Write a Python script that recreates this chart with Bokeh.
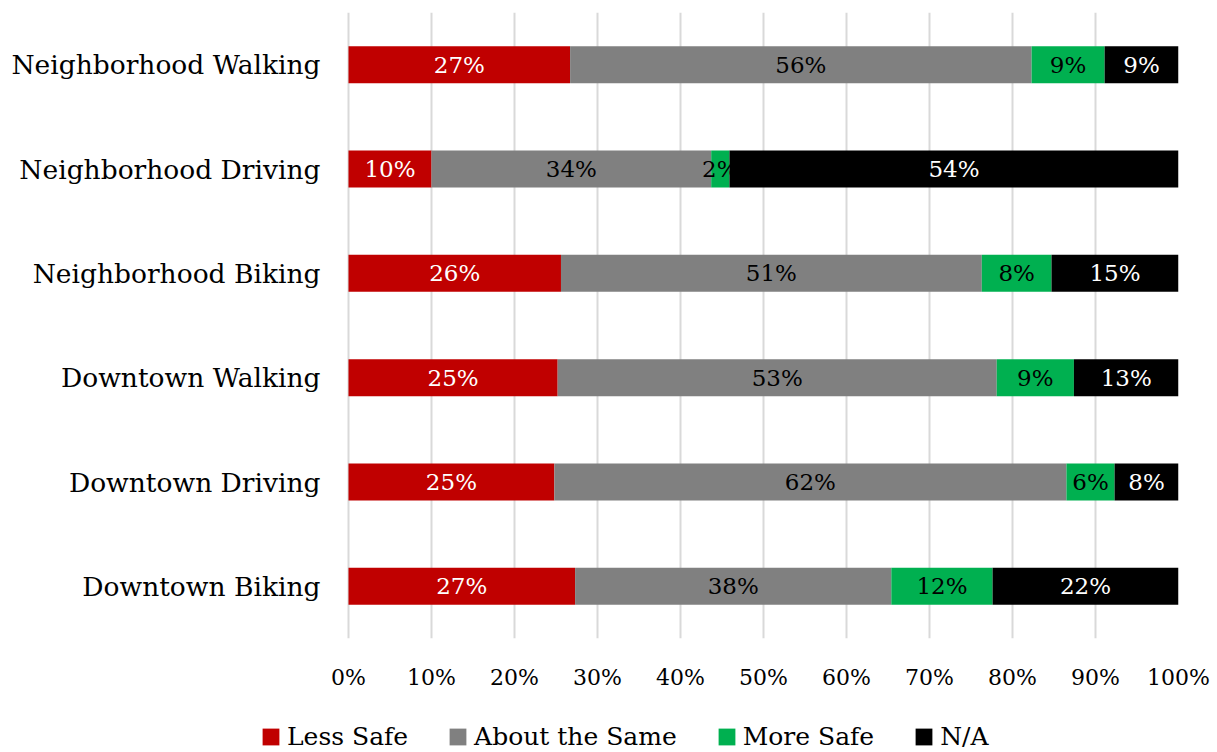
from bokeh.plotting import figure
from bokeh.layouts import column
from bokeh.models import (ColumnDataSource, FactorRange, Range1d, FixedTicker,
                          PrintfTickFormatter, Legend, LegendItem)
from bokeh.core.properties import value
from bokeh.embed import file_html
from bokeh.resources import INLINE

FONT = "DejaVu Serif"

categories = ["Neighborhood Walking", "Neighborhood Driving", "Neighborhood Biking",
              "Downtown Walking", "Downtown Driving", "Downtown Biking"]
less_safe = [26.7, 10.0, 25.6, 25.2, 24.8, 27.3]
about_same = [55.6, 33.7, 50.7, 52.9, 61.7, 38.1]
more_safe = [8.8, 2.2, 8.4, 9.3, 5.8, 12.2]
not_applicable = [8.9, 54.1, 15.3, 12.6, 7.7, 22.4]
series_names = ["Less Safe", "About the Same", "More Safe", "N/A"]
series_keys = ["less", "same", "more", "na"]
colors = ["#C00000", "#808080", "#00B050", "#000000"]
label_colors = ["#FFFFFF", "#000000", "#000000", "#FFFFFF"]
x_ticks = [0, 10, 20, 30, 40, 50, 60, 70, 80, 90, 100]

series_values = [less_safe, about_same, more_safe, not_applicable]

source = ColumnDataSource(dict(cat=categories, less=less_safe, same=about_same,
                               more=more_safe, na=not_applicable))

# frame spans 260..1178 px so the legend below can start at the left edge;
# the 0% position sits at 348 px
FRAME_LEFT, ZERO_PX, FRAME_RIGHT = 260, 348, 1178
x_start = -(ZERO_PX - FRAME_LEFT) / (FRAME_RIGHT - ZERO_PX) * 100.0

p = figure(width=1217, height=704, output_backend="svg", toolbar_location=None,
           y_range=FactorRange(factors=list(reversed(categories)), range_padding=0),
           x_range=Range1d(x_start, 100),
           min_border_left=FRAME_LEFT, min_border_right=1217 - FRAME_RIGHT,
           min_border_top=12, min_border_bottom=66)

renderers = p.hbar_stack(series_keys, y="cat", height=0.355, color=colors,
                         line_color=None, source=source)

# segment labels
lx, ly, lt, lc = [], [], [], []
for i, cat in enumerate(categories):
    start = 0.0
    for vals, col in zip(series_values, label_colors):
        v = vals[i]
        lx.append(start + v / 2.0)
        ly.append(cat)
        lt.append(f"{round(v)}%")
        lc.append(col)
        start += v
lab_src = ColumnDataSource(dict(x=lx, y=ly, text=lt, color=lc))
p.text(x="x", y="y", text="text", text_color="color", source=lab_src,
       text_align="center", text_baseline="middle",
       text_font=value(FONT), text_font_size="23px")

# axes
p.xaxis.ticker = FixedTicker(ticks=x_ticks)
p.xaxis.formatter = PrintfTickFormatter(format="%d%%")
p.xaxis.axis_line_color = None
p.xaxis.major_tick_line_color = None
p.xaxis.minor_tick_line_color = None
p.xaxis.major_tick_out = 0
p.xaxis.major_tick_in = 0
p.xaxis.major_label_text_font = FONT
p.xaxis.major_label_text_font_size = "22px"
p.xaxis.major_label_text_color = "#000000"
p.xaxis.major_label_standoff = 26

p.yaxis.axis_line_color = None
p.yaxis.major_tick_line_color = None
p.yaxis.minor_tick_line_color = None
p.yaxis.major_tick_out = 0
p.yaxis.major_tick_in = 0
p.yaxis.major_label_text_font = FONT
p.yaxis.major_label_text_font_size = "26.5px"
p.yaxis.major_label_text_color = "#000000"
p.yaxis.major_label_standoff = -(320 - FRAME_LEFT)

p.xgrid.grid_line_color = "#D9D9D9"
p.xgrid.grid_line_width = 2
p.ygrid.grid_line_color = None
p.outline_line_color = None

# legend strip below the chart (frame aligned with the chart's frame)
lg = figure(width=1217, height=48, output_backend="svg", toolbar_location=None,
            x_range=Range1d(0, 100), y_range=FactorRange(factors=categories),
            x_axis_type=None, y_axis_type=None,
            min_border=0, min_border_left=0, min_border_right=0,
            min_border_top=0, min_border_bottom=0)
lg.grid.visible = False
lg.outline_line_color = None
key_renderers = lg.hbar_stack(series_keys, y="cat", height=0.355, color=colors,
                              line_color=None, source=source)
for r in key_renderers:
    r.visible = False

legend = Legend(items=[LegendItem(label=n, renderers=[r]) for n, r in zip(series_names, key_renderers)],
                orientation="horizontal", location=(0, 1),
                label_text_font=FONT, label_text_font_size="25px",
                label_text_color="#000000",
                glyph_width=21, glyph_height=21, label_standoff=6,
                spacing=39, padding=0, margin=0,
                inactive_fill_alpha=0,
                border_line_color=None, background_fill_alpha=0)
lg.add_layout(legend, "center")

layout = column(p, lg, spacing=0)
open("out.html", "w").write(file_html(layout, INLINE))
